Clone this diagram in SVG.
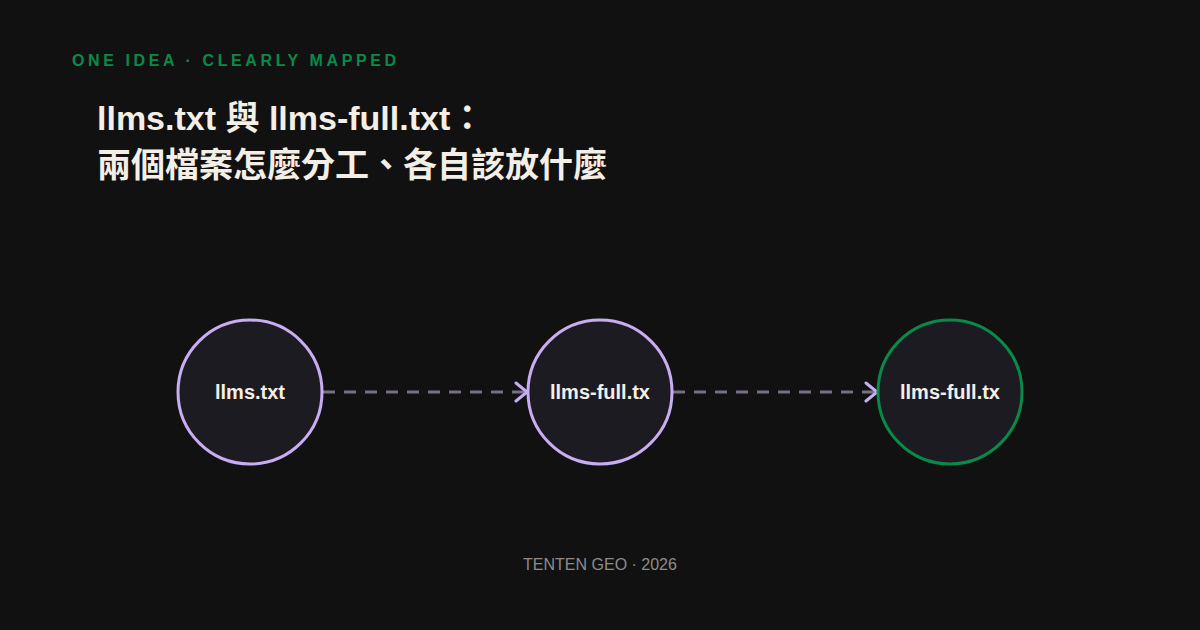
<svg xmlns="http://www.w3.org/2000/svg" width="1200" height="630" viewBox="0 0 1200 630">
<style>
.bg{fill:#111111}
.kicker{font-family:"Liberation Sans",Arial,sans-serif;font-weight:700;font-size:16px;letter-spacing:3.6px;fill:#0a8a4a}
.title{font-family:"Liberation Sans","Noto Sans CJK TC",sans-serif;font-weight:700;font-size:34px;fill:#f3efe6}
.node{fill:#1d1b22;stroke-width:3}
.lav{stroke:#c7aef2}
.grn{stroke:#0a8a4a}
.label{font-family:"Liberation Sans",Arial,sans-serif;font-weight:700;font-size:20px;fill:#f3efe6;text-anchor:middle}
.edge{stroke:#786e86;stroke-width:3;stroke-dasharray:12 9;fill:none}
.foot{font-family:"Liberation Sans",Arial,sans-serif;font-size:16px;fill:#8c8c8c;text-anchor:middle}
</style>
<defs>
<marker id="arr" markerWidth="16" markerHeight="22" refX="13" refY="11" orient="auto" markerUnits="userSpaceOnUse">
<path d="M2,2 L13,11 L2,20" fill="none" stroke="#c7aef2" stroke-width="3" stroke-linecap="round" stroke-linejoin="round"/>
</marker>
</defs>
<rect class="bg" width="1200" height="630"/>
<text class="kicker" x="72" y="66">ONE IDEA · CLEARLY MAPPED</text>
<text class="title" x="97" y="130">llms.txt 與 llms-full.txt：</text>
<text class="title" x="97" y="177">兩個檔案怎麼分工、各自該放什麼</text>
<g id="connectors">
<line class="edge" x1="323" y1="392" x2="527" y2="392" marker-end="url(#arr)"/>
<line class="edge" x1="673" y1="392" x2="877" y2="392" marker-end="url(#arr)"/>
</g>
<g id="node1">
<circle class="node lav" cx="250" cy="392" r="72"/>
<text class="label" x="250" y="399">llms.txt</text>
</g>
<g id="node2">
<circle class="node lav" cx="600" cy="392" r="72"/>
<text class="label" x="600" y="399">llms-full.tx</text>
</g>
<g id="node3">
<circle class="node grn" cx="950" cy="392" r="72"/>
<text class="label" x="950" y="399">llms-full.tx</text>
</g>
<text class="foot" x="600" y="570">TENTEN GEO · 2026</text>
</svg>
